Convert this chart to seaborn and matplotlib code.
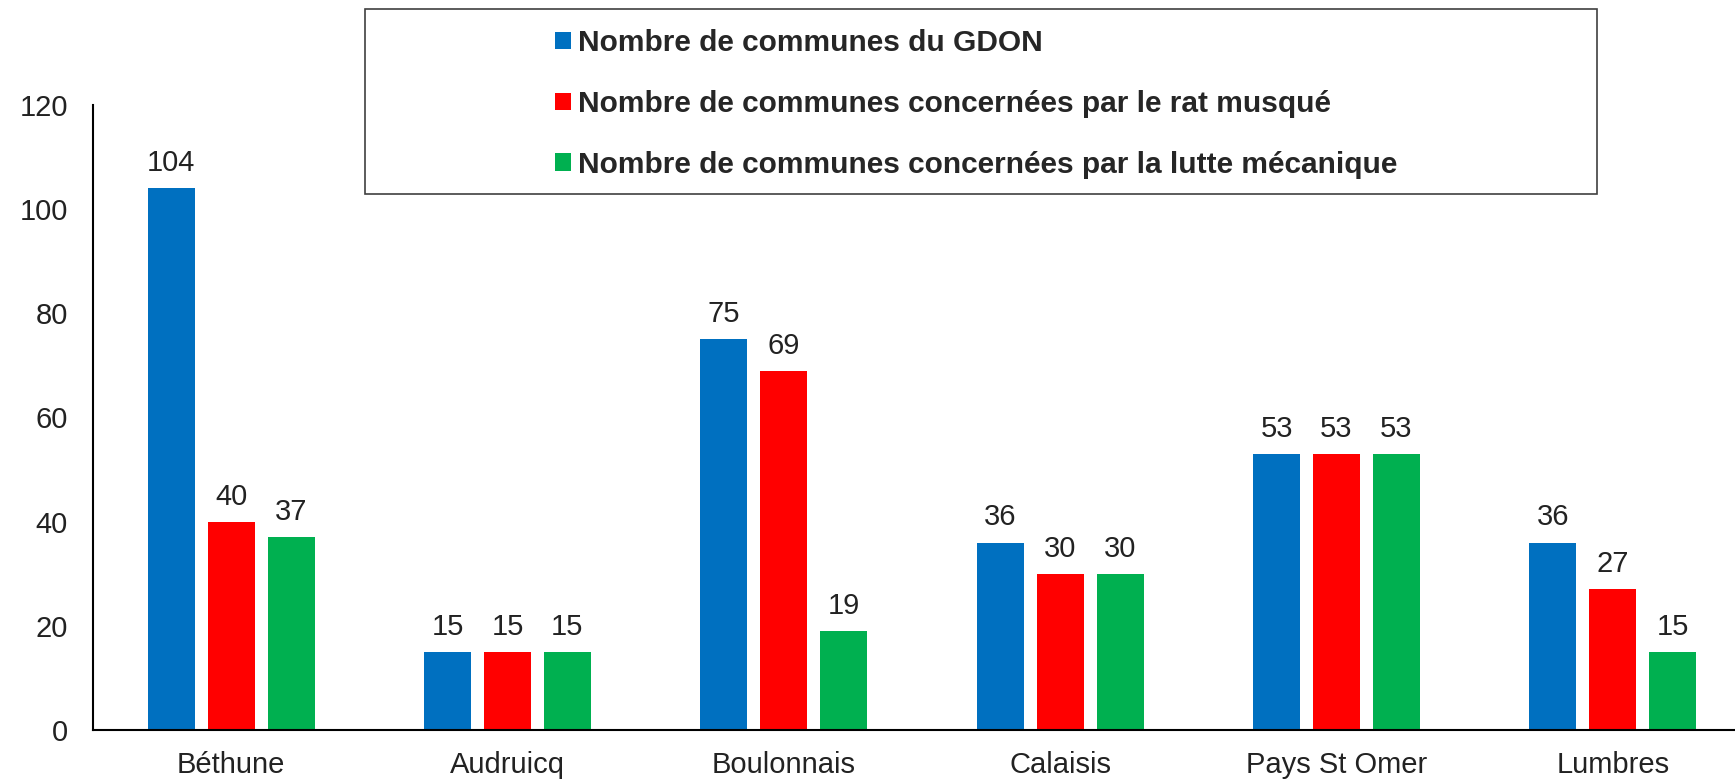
import matplotlib
matplotlib.use('Agg')
import matplotlib.pyplot as plt
import numpy as np
import pandas as pd
import seaborn as sns
from matplotlib.patches import Rectangle

# data
gdon = ['Béthune', 'Audruicq', 'Boulonnais', 'Calaisis', 'Pays St Omer', 'Lumbres']
series = ['Nombre de communes du GDON',
          'Nombre de communes concernées par le rat musqué',
          'Nombre de communes concernées par la lutte mécanique']
communes_gdon = [104, 15, 75, 36, 53, 36]
communes_rat = [40, 15, 69, 30, 53, 27]
communes_lutte = [37, 15, 19, 30, 53, 15]
colors = ['#0070C0', '#FF0000', '#00B050']

df = pd.DataFrame({
    'gdon': gdon * 3,
    'serie': np.repeat(series, len(gdon)),
    'valeur': communes_gdon + communes_rat + communes_lutte,
})

sns.set_style('white')
plt.rcParams['font.family'] = ['Liberation Sans', 'DejaVu Sans']

fig = plt.figure(figsize=(17.35, 7.81), dpi=100)
ax = fig.add_axes([93 / 1735, 1 - 730 / 781, (1751 - 93) / 1735, 625 / 781])

sns.barplot(data=df, x='gdon', y='valeur', hue='serie', palette=colors,
            saturation=1, width=0.65, gap=0.215, errorbar=None,
            linewidth=0, ax=ax)

for cont in ax.containers:
    ax.bar_label(cont, padding=8, fontsize=21, color='#222222')

handles, labels = ax.get_legend_handles_labels()
ax.get_legend().remove()

ax.set_ylim(0, 120)
ax.set_yticks(range(0, 121, 20))
ax.set_xlim(-0.5, 5.5)
ax.set_xlabel('')
ax.set_ylabel('')
ax.tick_params(axis='y', length=0, pad=18, labelsize=21, labelcolor='#222222')
ax.tick_params(axis='x', length=0, pad=15, labelsize=21, labelcolor='#222222')
sns.despine(ax=ax)
for side in ['left', 'bottom']:
    ax.spines[side].set_color('black')
    ax.spines[side].set_linewidth(1.5)

# legend with its own frame, as in the original
fig.patches.append(Rectangle((365 / 1735, 1 - 194 / 781), (1597 - 365) / 1735, 185 / 781,
                             transform=fig.transFigure, facecolor='white',
                             edgecolor='#404040', linewidth=1.2, zorder=3))
leg = fig.legend(handles, labels, loc='upper left',
                 bbox_to_anchor=(555 / 1735, 1 - 29 / 781),
                 frameon=False, borderpad=0, borderaxespad=0,
                 handlelength=0.52, handleheight=0.52, handletextpad=0.25,
                 labelspacing=1.1, prop={'weight': 'bold', 'size': 21.5})
leg.set_zorder(4)

plt.savefig('out.png', dpi=100)
